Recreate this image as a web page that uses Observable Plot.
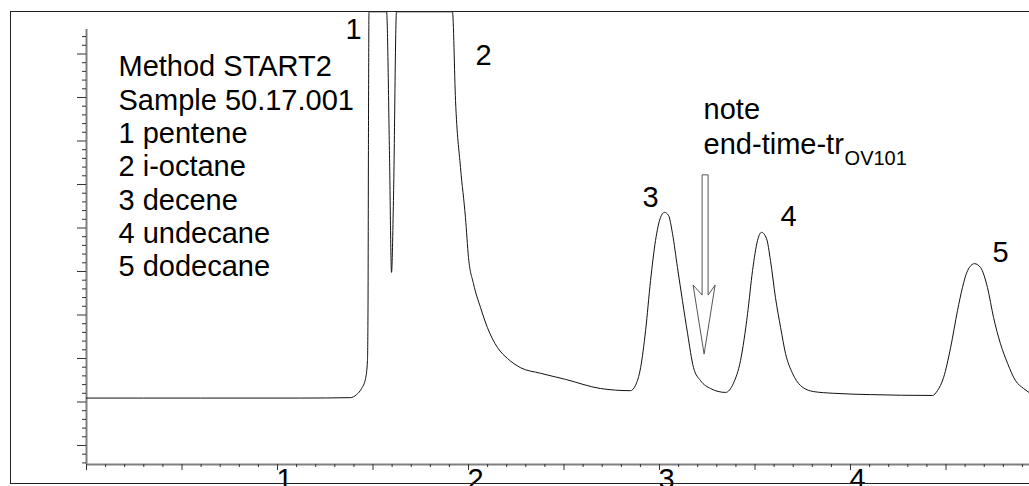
<!DOCTYPE html>
<html>
<head>
<meta charset="utf-8">
<script src="https://cdn.jsdelivr.net/npm/d3@7"></script>
<script src="https://cdn.jsdelivr.net/npm/@observablehq/plot@0.6"></script>
<style>
  html, body { margin: 0; padding: 0; background: #fff; }
  #wrap { position: relative; width: 1029px; height: 486px; overflow: hidden; }
  #wrap svg { position: absolute; left: 0; top: 0; }
  #border { position: absolute; left: 10px; top: 11px; width: 1040px; height: 471px; border: 1px solid #222; pointer-events: none; }
</style>
</head>
<body>
<div id="wrap"></div>
<script>
// ---- data (retention time in min, detector signal in arbitrary units) ----
const retentionTime = [0, 0.597, 1.120, 1.382, 1.414, 1.440, 1.461, 1.471, 1.474, 1.476,
  1.479, 1.571, 1.586, 1.597, 1.607, 1.623, 1.916, 1.932, 1.958, 1.984,
  2.000, 2.026, 2.063, 2.099, 2.152, 2.204, 2.272, 2.377, 2.508, 2.691,
  2.848, 2.874, 2.901, 2.927, 2.953, 2.979, 3.005, 3.026, 3.047, 3.068,
  3.094, 3.120, 3.147, 3.178, 3.215, 3.267, 3.346, 3.387, 3.424, 3.461,
  3.487, 3.513, 3.534, 3.560, 3.581, 3.607, 3.634, 3.660, 3.696, 3.738,
  3.806, 3.911, 4.105, 4.429, 4.455, 4.487, 4.524, 4.560, 4.586, 4.613,
  4.649, 4.681, 4.717, 4.749, 4.785, 4.822, 4.864, 4.906, 4.942];
const signal = [1.09, 1.09, 1.09, 1.10, 1.17, 1.31, 1.54, 1.95, 3.33, 6.78,
  9.97, 9.97, 6.78, 3.98, 5.63, 9.97, 9.97, 7.93, 6.39, 5.24,
  4.32, 3.72, 3.17, 2.71, 2.25, 2.00, 1.79, 1.66, 1.52, 1.31,
  1.26, 1.38, 1.79, 2.64, 3.79, 4.71, 5.24, 5.36, 5.29, 4.87,
  4.09, 3.33, 2.57, 1.79, 1.49, 1.31, 1.22, 1.43, 1.95, 3.03,
  4.02, 4.71, 4.90, 4.76, 4.25, 3.40, 2.71, 2.11, 1.66, 1.38,
  1.24, 1.20, 1.17, 1.15, 1.26, 1.56, 2.25, 3.10, 3.63, 4.02,
  4.18, 4.09, 3.63, 2.94, 2.34, 1.89, 1.49, 1.31, 1.20];

const peakNumbers = ["1", "2", "3", "4", "5"];
const peakLabelRt = [1.398, 2.079, 2.953, 3.675, 4.785];
const peakLabelSignal = [9.56, 8.97, 5.70, 5.26, 4.44];

const legendLines = ["Method START2", "Sample 50.17.001", "1 pentene", "2 i-octane", "3 decene", "4 undecane", "5 dodecane"];
const noteWord = "note";
const noteText = "end-time-tr";
const noteSub = "OV101";

const arrowRt = 3.236;
const arrowTopSignal = 6.21;
const arrowTipSignal = 2.09;

const xTicks = [1, 2, 3, 4, 5];
const xTickLabels = ["1", "2", "3", "4", "5"];
const xDomain = [0, 4.937];
const yDomain = [-0.437, 9.563];

// ---- build ----
const trace = retentionTime.map((t, i) => ({rt: t, signal: signal[i]}));
const peakLabels = peakNumbers.map((s, i) => ({label: s, rt: peakLabelRt[i], signal: peakLabelSignal[i]}));

const xMinor = d3.range(0, 50).map(i => i / 10).filter(v => v % 0.5 > 0.01 && v % 0.5 < 0.49);
const xHalf = d3.range(0, 10).map(i => i / 2);
const yMajor = d3.range(0, 10);
const yMinor = d3.range(-2, 48).map(i => i / 5).filter(v => Math.abs(v - Math.round(v)) > 0.01);

function hollowArrow(index, scales) {
  const x = scales.x(arrowRt);
  const yTop = scales.y(arrowTopSignal);
  const yTip = scales.y(arrowTipSignal);
  const d = `M${x - 2},${yTop}L${x - 2},${yTip - 59}L${x - 11},${yTip - 69}L${x},${yTip}`
          + `L${x + 11},${yTip - 69}L${x + 4},${yTip - 59}L${x + 4},${yTop}Z`;
  const p = document.createElementNS("http://www.w3.org/2000/svg", "path");
  p.setAttribute("d", d);
  p.setAttribute("fill", "white");
  p.setAttribute("stroke", "#555");
  p.setAttribute("stroke-width", "1");
  return p;
}

const FS = 29;
const chart = Plot.plot({
  width: 1029,
  height: 486,
  marginLeft: 86,
  marginRight: 0,
  marginTop: 29,
  marginBottom: 22,
  x: {domain: xDomain},
  y: {domain: yDomain},
  style: {fontFamily: "'Liberation Sans', Arial, sans-serif", fontSize: FS + "px", color: "#000", background: "transparent"},
  marks: [
    // axis lines
    Plot.ruleY([yDomain[0]], {x1: xDomain[0], x2: xDomain[1], stroke: "#808080", strokeWidth: 2}),
    Plot.ruleX([xDomain[0]], {y1: yDomain[0], y2: yDomain[1], stroke: "#808080", strokeWidth: 2}),
    // y ticks (no labels)
    Plot.axisY({ticks: yMajor, tickSize: 9, tickFormat: () => "", stroke: "#333", label: null}),
    Plot.axisY({ticks: yMinor, tickSize: 4, tickFormat: () => "", stroke: "#333", label: null}),
    // x ticks
    Plot.axisX({ticks: xMinor, tickSize: 3, tickFormat: () => "", stroke: "#333", label: null}),
    Plot.axisX({ticks: xHalf, tickSize: 6, tickFormat: () => "", stroke: "#333", label: null}),
    Plot.axisX({ticks: xTicks, tickSize: 0, tickPadding: 4, tickFormat: (d, i) => xTickLabels[i],
                textAnchor: "start", dx: -1, fontSize: FS, label: null}),
    // chromatogram trace
    Plot.line(trace, {x: "rt", y: "signal", stroke: "#111", strokeWidth: 1, curve: "monotone-x"}),
    // peak numbers
    Plot.text(peakLabels, {x: "rt", y: "signal", text: "label", fontSize: FS, fill: "#000"}),
    // legend block
    Plot.text([legendLines.join("\n")], {frameAnchor: "top-left", dx: 32, dy: 23, lineAnchor: "top",
              lineHeight: 1.15, textAnchor: "start", fontSize: FS, fill: "#000"}),
    // arrow + note
    hollowArrow,
    Plot.text([noteWord], {x: () => arrowRt, y: () => arrowTopSignal, dy: -56, dx: -1,
              textAnchor: "start", lineAnchor: "bottom", fontSize: FS, fill: "#000"}),
    Plot.text([noteText], {x: () => arrowRt, y: () => arrowTopSignal, dy: -21, dx: -1,
              textAnchor: "start", lineAnchor: "bottom", fontSize: FS, fill: "#000"}),
    Plot.text([noteSub], {x: () => arrowRt, y: () => arrowTopSignal, dy: -10, dx: 140,
              textAnchor: "start", lineAnchor: "bottom", fontSize: 20, fill: "#000"})
  ]
});

const wrap = document.getElementById("wrap");
wrap.appendChild(chart);
const border = document.createElement("div");
border.id = "border";
wrap.appendChild(border);
</script>
</body>
</html>
